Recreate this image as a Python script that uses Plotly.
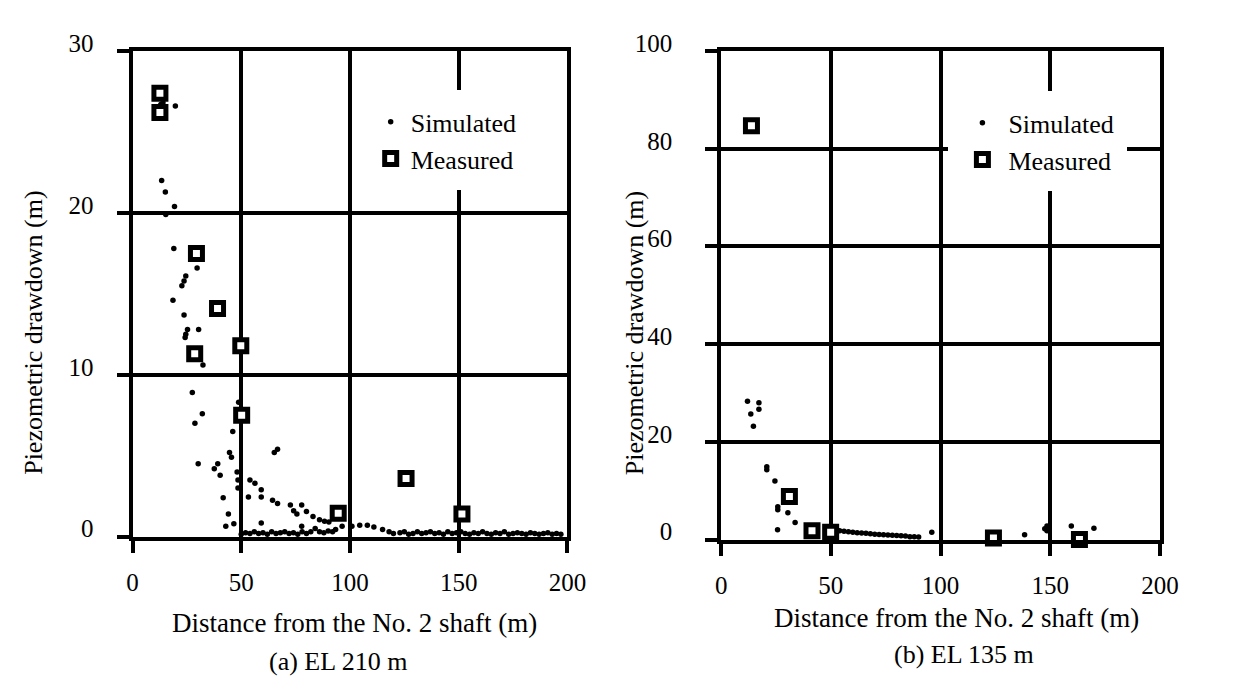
import plotly.graph_objects as go

# page body has an 8px default margin; the figure is shrunk so that the page fits exactly
OFF = 8
W, H = 1233 - 2 * OFF, 686 - 2 * OFF
FONT = "Liberation Serif"

# ---------------- (a) EL 210 m ----------------
sim_a_x = [13.0, 14.0, 19.7, 13.4, 15.1, 19.3, 15.3, 19.0, 29.7, 24.5, 23.7, 22.7, 18.6, 23.7,
           25.3, 24.5, 24.2, 30.4, 32.4, 27.5, 32.1, 28.7, 48.8, 46.1, 44.6, 45.5, 30.2, 37.6,
           39.2, 40.3, 48.1, 48.5, 48.5, 54.0, 56.3, 66.7, 65.2, 53.3, 59.2, 59.2, 64.4, 66.7,
           72.6, 74.1, 75.6, 77.8, 80.0, 83.0, 86.0, 88.3, 77.8, 41.7, 44.1, 42.9, 46.6, 59.2,
           93.4, 90.3, 96.4, 100.9, 104.5, 108.0, 111.0, 115.0, 118.0, 120.0,
           50.0, 52.0, 54.0, 56.0, 58.0, 60.0, 62.0, 64.0, 66.0, 68.0, 70.0, 72.0, 74.0, 76.0,
           78.0, 80.0, 82.0, 84.0, 86.0, 88.0, 90.0, 92.0, 123.0, 125.0, 127.0, 129.0, 131.0,
           133.0, 135.0, 137.0, 139.0, 141.0, 143.0, 145.0, 147.0, 149.0, 151.0, 153.0, 155.0,
           157.0, 159.0, 161.0, 163.0, 165.0, 167.0, 169.0, 171.0, 173.0, 175.0, 177.0, 179.0,
           181.0, 183.0, 185.0, 187.0, 189.0, 191.0, 193.0, 195.0, 197.0]
sim_a_y = [26.7, 26.8, 26.6, 22.0, 21.3, 20.4, 19.9, 17.8, 16.6, 16.1, 15.8, 15.5, 14.6, 13.7,
           12.8, 12.5, 12.3, 12.8, 10.6, 8.9, 7.6, 7.0, 8.3, 6.5, 5.2, 4.9, 4.5, 4.2,
           4.5, 3.8, 4.0, 3.5, 3.0, 3.5, 3.3, 5.4, 5.2, 2.45, 2.9, 2.45, 2.25, 2.05,
           1.95, 1.6, 1.4, 1.95, 1.55, 1.25, 1.05, 0.95, 0.65, 2.4, 1.4, 0.65, 0.8, 0.85,
           0.45, 0.9, 0.65, 0.65, 0.7, 0.7, 0.6, 0.45, 0.3, 0.2,
           0.15, 0.25, 0.2, 0.3, 0.2, 0.25, 0.15, 0.3, 0.2, 0.25, 0.3, 0.2, 0.25, 0.15,
           0.3, 0.2, 0.3, 0.5, 0.3, 0.25, 0.35, 0.3, 0.25, 0.3, 0.15, 0.2, 0.3,
           0.2, 0.25, 0.3, 0.2, 0.25, 0.15, 0.3, 0.2, 0.25, 0.3, 0.2, 0.15,
           0.25, 0.2, 0.3, 0.2, 0.15, 0.25, 0.2, 0.3, 0.15, 0.2, 0.25, 0.2,
           0.15, 0.25, 0.2, 0.15, 0.2, 0.25, 0.15, 0.2, 0.15]
meas_a_x = [12.6, 12.6, 29.4, 39.1, 49.8, 28.6, 50.2, 94.6, 125.8, 151.5]
meas_a_y = [27.4, 26.2, 17.5, 14.1, 11.8, 11.3, 7.5, 1.45, 3.6, 1.4]

# ---------------- (b) EL 135 m ----------------
sim_b_x = [12.0, 17.2, 17.2, 13.5, 14.7, 20.8, 20.8, 24.5, 25.8, 25.8, 30.4, 33.7, 25.7, 43.0,
           54.0, 56.0, 58.0, 60.0, 62.0, 64.0, 66.0, 68.0, 70.0, 72.0, 74.0, 76.0, 78.0, 80.0,
           82.0, 84.0, 86.0, 88.0, 90.0, 96.0,
           138.3, 148.5, 148.5, 147.5, 159.6, 169.9]
sim_b_y = [28.3, 28.0, 26.7, 25.7, 23.2, 14.9, 14.3, 12.0, 6.7, 6.1, 5.5, 3.5, 2.0, 2.2,
           1.8, 1.7, 1.6, 1.5, 1.4, 1.35, 1.3, 1.2, 1.1, 1.05, 1.0, 0.95, 0.9, 0.85,
           0.8, 0.75, 0.6, 0.55, 0.5, 1.5,
           1.0, 1.8, 2.8, 2.2, 2.8, 2.3]
meas_b_x = [13.8, 31.1, 41.4, 49.9, 93.5, 124.1, 163.3]
meas_b_y = [84.7, 8.8, 1.8, 1.5, -0.3, 0.3, 0.0]

x_ticks = [0, 50, 100, 150, 200]
y_ticks_a = [0, 10, 20, 30]
y_ticks_b = [0, 20, 40, 60, 80, 100]

sim_style = dict(symbol="circle", size=5.5, color="black", line=dict(width=0))
meas_style = dict(symbol="square", size=12, color="white", line=dict(width=5, color="black"))

fig = go.Figure()
fig.add_trace(go.Scatter(x=sim_a_x, y=sim_a_y, mode="markers", name="Simulated",
                         marker=sim_style, xaxis="x", yaxis="y", legend="legend", cliponaxis=False))
fig.add_trace(go.Scatter(x=meas_a_x, y=meas_a_y, mode="markers", name="Measured",
                         marker=meas_style, xaxis="x", yaxis="y", legend="legend", cliponaxis=False))
fig.add_trace(go.Scatter(x=sim_b_x, y=sim_b_y, mode="markers", name="Simulated",
                         marker=sim_style, xaxis="x2", yaxis="y2", legend="legend2", cliponaxis=False))
fig.add_trace(go.Scatter(x=meas_b_x, y=meas_b_y, mode="markers", name="Measured",
                         marker=meas_style, xaxis="x2", yaxis="y2", legend="legend2", cliponaxis=False))

def px(v):
    return (v - OFF) / W

def py(v):
    return 1 - (v - OFF) / H

axis_common = dict(showgrid=True, gridcolor="black", gridwidth=4, zeroline=False,
                   showline=True, linecolor="black", linewidth=4, mirror=True,
                   ticks="outside", ticklen=12, tickwidth=4, tickcolor="black",
                   tickfont=dict(family=FONT, size=25, color="black"))

legend_common = dict(xanchor="left", yanchor="top", bgcolor="white",
                     bordercolor="white", borderwidth=8,
                     font=dict(family=FONT, size=26, color="black"))

fig.update_layout(
    width=W, height=H, autosize=False,
    margin=dict(l=0, r=0, t=0, b=0),
    paper_bgcolor="white", plot_bgcolor="white",
    font=dict(family=FONT, size=26, color="black"),
    xaxis=dict(domain=[px(129), px(573)], range=[0, 200], tickvals=x_ticks,
               anchor="y", ticklabelstandoff=8, **axis_common),
    yaxis=dict(domain=[py(537), py(31)], range=[0, 30], tickvals=y_ticks_a,
               anchor="x", ticklabelstandoff=18, ticklabelshift=-8, **axis_common),
    xaxis2=dict(domain=[px(730), px(1178)], range=[0, 200], tickvals=x_ticks,
                anchor="y2", ticklabelstandoff=8, **axis_common),
    yaxis2=dict(domain=[py(540), py(31)], range=[0, 100], tickvals=y_ticks_b,
                anchor="x2", ticklabelstandoff=28, ticklabelshift=-8, **axis_common),
    legend=dict(x=px(364), y=py(72), itemwidth=30, **legend_common),
    legend2=dict(x=px(962), y=py(73), itemwidth=42, **legend_common),
    showlegend=True,
)

ann = []
def add_text(text, x, y, angle=0, size=26):
    ann.append(dict(text=text, x=px(x), y=py(y), xref="paper", yref="paper",
                    xanchor="center", yanchor="middle", showarrow=False, textangle=angle,
                    font=dict(family=FONT, size=size, color="black")))

add_text("Distance from the No. 2 shaft (m)", 356, 627, size=27)
add_text("(a) EL 210 m", 339, 667)
add_text("Piezometric drawdown (m)", 28, 325, angle=-90)
add_text("Distance from the No. 2 shaft (m)", 970, 622, size=27)
add_text("(b) EL 135 m", 978, 660)
add_text("Piezometric drawdown (m)", 641, 325, angle=-90)
fig.update_layout(annotations=ann)

fig.write_html("out.html")
